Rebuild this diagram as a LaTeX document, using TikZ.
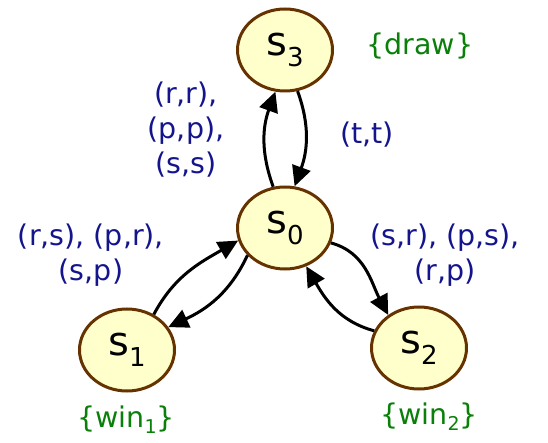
\documentclass[tikz,border=0pt]{standalone}
\usepackage{fontspec}
\setmainfont{DejaVu Sans}
\usetikzlibrary{shapes.geometric,arrows.meta}
\definecolor{statefill}{RGB}{255,255,204}
\definecolor{stateborder}{RGB}{102,51,0}
\definecolor{lblblue}{RGB}{20,20,140}
\definecolor{lblgreen}{RGB}{10,128,10}
\newcommand{\stlabel}[1]{s\raisebox{-0.28em}{\fontsize{26}{26}\selectfont #1}}
\newcommand{\winsub}[1]{\raisebox{-0.2em}{\fontsize{19}{19}\selectfont #1}}
\begin{document}
\begin{tikzpicture}[x=1pt,y=-1pt,
  state/.style={ellipse,draw=stateborder,fill=statefill,line width=3pt,
    minimum width=95pt,minimum height=82pt,inner sep=0pt,
    font=\fontsize{40}{40}\selectfont},
  edge/.style={line width=3pt,-{Triangle[length=20pt,width=19pt]}},
  act/.style={text=lblblue,align=center,font=\fontsize{28.5}{35}\selectfont},
  prop/.style={text=lblgreen,font=\fontsize{28.5}{33}\selectfont}]
\useasboundingbox (0,0) rectangle (548,443);
\node[state] (s3) at (285,50) {\stlabel{3}};
\node[state] (s0) at (285,228) {\stlabel{0}};
\node[state] (s1) at (127,350) {\stlabel{1}};
\node[state] (s2) at (419,348) {\stlabel{2}};

\draw[edge] (s0.106) to[out=110,in=250] (s3.257);
\draw[edge] (s3.287) to[out=-70,in=70] (s0.77);
\draw[edge] (s1.53) to[out=62,in=210] (s0.195);
\draw[edge] (s0.216) to[out=245,in=25] (s1.29);
\draw[edge] (s0.342) to[out=-15,in=118] (s2.133);
\draw[edge] (s2.159) to[out=165,in=-60] (s0.299);

\node[prop] (ld) at (420,46) {\{draw\}};
\node[prop] (lw1) at (126,420) {\{win\winsub{1}\}};
\node[prop] (lw2) at (429,417) {\{win\winsub{2}\}};

\node[act] (a30) at (186,130) {(r,r),\\(p,p),\\(s,s)};
\node[act] (a03) at (367,135) {(t,t)};
\node[act] (a10) at (91,255) {(r,s), (p,r),\\(s,p)};
\node[act] (a20) at (445,255) {(s,r), (p,s),\\(r,p)};
\end{tikzpicture}
\end{document}
